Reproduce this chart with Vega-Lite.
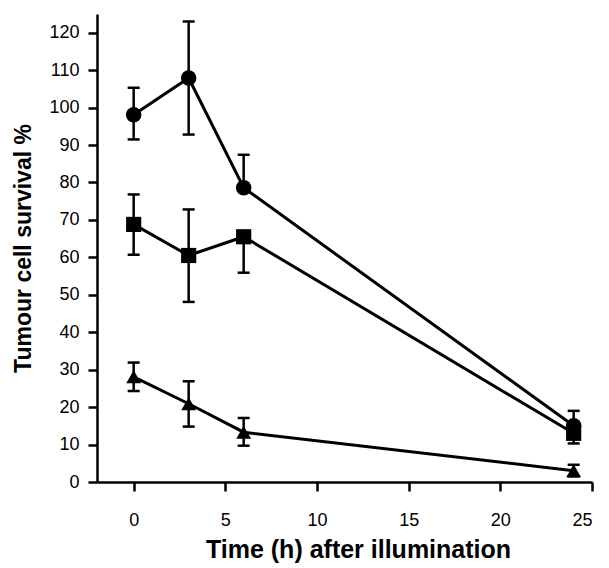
{
  "$schema": "https://vega.github.io/schema/vega-lite/v6.json",
  "width": 495,
  "height": 468,
  "autosize": "none",
  "padding": {"left": 97, "top": 14, "right": 17, "bottom": 86},
  "background": "white",
  "config": {
    "view": {"stroke": null},
    "axis": {
      "grid": false,
      "domainColor": "black",
      "domainWidth": 2.5,
      "tickColor": "black",
      "tickWidth": 2.5,
      "tickSize": 9,
      "labelFont": "Liberation Sans",
      "labelFontSize": 18,
      "labelColor": "black",
      "labelOverlap": false,
      "titleFont": "Liberation Sans",
      "titleFontWeight": "bold",
      "titleColor": "black"
    }
  },
  "data": {
    "values": [
      {"series": "A", "time": 0, "value": 98.1, "lo": 91.5, "hi": 105.3},
      {"series": "A", "time": 3, "value": 107.9, "lo": 92.8, "hi": 123.0},
      {"series": "A", "time": 6, "value": 78.6, "lo": 78.6, "hi": 87.4},
      {"series": "A", "time": 24, "value": 15.0, "lo": 15.0, "hi": 19.0},
      {"series": "B", "time": 0, "value": 68.8, "lo": 60.7, "hi": 76.8},
      {"series": "B", "time": 3, "value": 60.5, "lo": 48.1, "hi": 72.8},
      {"series": "B", "time": 6, "value": 65.5, "lo": 55.9, "hi": 65.5},
      {"series": "B", "time": 24, "value": 13.0, "lo": 10.3, "hi": 13.0},
      {"series": "C", "time": 0, "value": 28.1, "lo": 24.3, "hi": 31.9},
      {"series": "C", "time": 3, "value": 20.9, "lo": 14.8, "hi": 26.9},
      {"series": "C", "time": 6, "value": 13.3, "lo": 9.7, "hi": 17.1},
      {"series": "C", "time": 24, "value": 3.0, "lo": 1.5, "hi": 4.6}
    ]
  },
  "encoding": {
    "x": {
      "field": "time",
      "type": "quantitative",
      "scale": {"domain": [-2, 25], "nice": false, "zero": false},
      "axis": {
        "values": [0, 5, 10, 15, 20, 25],
        "labelPadding": 20,
        "title": "Time (h) after illumination",
        "titleFontSize": 25,
        "titleX": 261,
        "titleY": 75,
        "titleAlign": "center",
        "titleBaseline": "alphabetic"
      }
    }
  },
  "layer": [
    {
      "mark": {"type": "rule", "color": "black", "strokeWidth": 2.5},
      "encoding": {
        "y": {
          "field": "lo",
          "type": "quantitative",
          "scale": {"domain": [0, 125], "nice": false},
          "axis": {
            "values": [0, 10, 20, 30, 40, 50, 60, 70, 80, 90, 100, 110, 120],
            "labelOverlap": false,
            "labelPadding": 9,
            "title": "Tumour cell survival %",
            "titleFontSize": 23,
            "titleAngle": -90,
            "titleX": -74,
            "titleY": 234,
            "titleAlign": "center",
            "titleBaseline": "middle"
          }
        },
        "y2": {"field": "hi"}
      }
    },
    {
      "mark": {"type": "tick", "orient": "horizontal", "color": "black", "size": 12, "thickness": 2.5, "opacity": 1},
      "encoding": {
        "y": {
          "field": "lo",
          "type": "quantitative",
          "scale": {"domain": [0, 125], "nice": false},
          "axis": {
            "values": [0, 10, 20, 30, 40, 50, 60, 70, 80, 90, 100, 110, 120],
            "labelOverlap": false,
            "labelPadding": 9,
            "title": "Tumour cell survival %",
            "titleFontSize": 23,
            "titleAngle": -90,
            "titleX": -74,
            "titleY": 234,
            "titleAlign": "center",
            "titleBaseline": "middle"
          }
        }
      }
    },
    {
      "mark": {"type": "tick", "orient": "horizontal", "color": "black", "size": 12, "thickness": 2.5, "opacity": 1},
      "encoding": {
        "y": {
          "field": "hi",
          "type": "quantitative",
          "scale": {"domain": [0, 125], "nice": false},
          "axis": {
            "values": [0, 10, 20, 30, 40, 50, 60, 70, 80, 90, 100, 110, 120],
            "labelOverlap": false,
            "labelPadding": 9,
            "title": "Tumour cell survival %",
            "titleFontSize": 23,
            "titleAngle": -90,
            "titleX": -74,
            "titleY": 234,
            "titleAlign": "center",
            "titleBaseline": "middle"
          }
        }
      }
    },
    {
      "mark": {"type": "line", "color": "black", "strokeWidth": 3},
      "encoding": {
        "y": {
          "field": "value",
          "type": "quantitative",
          "scale": {"domain": [0, 125], "nice": false},
          "axis": {
            "values": [0, 10, 20, 30, 40, 50, 60, 70, 80, 90, 100, 110, 120],
            "labelOverlap": false,
            "labelPadding": 9,
            "title": "Tumour cell survival %",
            "titleFontSize": 23,
            "titleAngle": -90,
            "titleX": -74,
            "titleY": 234,
            "titleAlign": "center",
            "titleBaseline": "middle"
          }
        },
        "detail": {"field": "series"}
      }
    },
    {
      "mark": {"type": "point", "filled": true, "color": "black", "opacity": 1},
      "encoding": {
        "y": {
          "field": "value",
          "type": "quantitative",
          "scale": {"domain": [0, 125], "nice": false},
          "axis": {
            "values": [0, 10, 20, 30, 40, 50, 60, 70, 80, 90, 100, 110, 120],
            "labelOverlap": false,
            "labelPadding": 9,
            "title": "Tumour cell survival %",
            "titleFontSize": 23,
            "titleAngle": -90,
            "titleX": -74,
            "titleY": 234,
            "titleAlign": "center",
            "titleBaseline": "middle"
          }
        },
        "shape": {
          "field": "series",
          "type": "nominal",
          "scale": {"domain": ["A", "B", "C"], "range": ["circle", "square", "triangle-up"]},
          "legend": null
        },
        "size": {
          "field": "series",
          "type": "nominal",
          "scale": {"domain": ["A", "B", "C"], "range": [240, 220, 170]},
          "legend": null
        }
      }
    }
  ]
}
